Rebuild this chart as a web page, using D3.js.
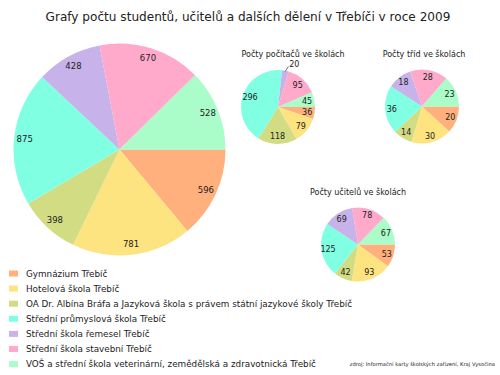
<!DOCTYPE html>
<html>
<head>
<meta charset="utf-8">
<script src="https://cdn.jsdelivr.net/npm/d3@7"></script>
<style>
  body { margin: 0; background: #fff; }
  svg { font-family: "DejaVu Sans", Verdana, sans-serif; }
</style>
</head>
<body>
<div id="chart"></div>
<script>
const width = 500, height = 375;

const schools = [
  "Gymnázium Třebíč",
  "Hotelová škola Třebíč",
  "OA Dr. Albína Bráfa a Jazyková škola s právem státní jazykové školy Třebíč",
  "Střední průmyslová škola Třebíč",
  "Střední škola řemesel Třebíč",
  "Střední škola stavební Třebíč",
  "VOŠ a střední škola veterinární, zemědělská a zdravotnická Třebíč"
];
const colors = ["#ffb07c", "#fde480", "#d2dd83", "#80ffe2", "#c8b2ea", "#ffaaca", "#aafcc8"];

const students  = [596, 781, 398, 875, 428, 670, 528];
const computers = [36, 79, 118, 296, 20, 95, 45];
const classes   = [20, 30, 14, 36, 18, 28, 23];
const teachers  = [53, 93, 42, 125, 69, 78, 67];

const svg = d3.select("#chart").append("svg")
  .attr("width", width)
  .attr("height", height);

svg.append("text")
  .attr("x", 248).attr("y", 21)
  .attr("text-anchor", "middle")
  .attr("font-size", 12.1)
  .attr("fill", "#222")
  .text("Grafy počtu studentů, učitelů a dalších dělení v Třebíči v roce 2009");

// pie starts at 3 o'clock and runs clockwise
const pie = d3.pie().sort(null)
  .startAngle(Math.PI / 2)
  .endAngle(Math.PI / 2 + 2 * Math.PI);

function drawPie(values, cx, cy, r, labelK, fontSize, title, titleX, titleY) {
  const g = svg.append("g").attr("transform", `translate(${cx},${cy})`);
  const arcs = pie(values);
  const total = d3.sum(values);
  const arc = d3.arc().innerRadius(0).outerRadius(r);
  const labelArc = d3.arc().innerRadius(r * labelK).outerRadius(r * labelK);

  g.selectAll("path").data(arcs).join("path")
    .attr("d", arc)
    .attr("fill", (d, i) => colors[i]);

  arcs.forEach(d => {
    const small = d.value / total < 0.04;
    if (small) {
      const a = (d.startAngle + d.endAngle) / 2;
      const p = k => [Math.sin(a) * r * k, -Math.cos(a) * r * k];
      const p1 = p(0.98), p2 = p(1.12);
      g.append("line")
        .attr("x1", p1[0]).attr("y1", p1[1])
        .attr("x2", p2[0] + 2).attr("y2", p2[1])
        .attr("stroke", "#333").attr("stroke-width", 0.7);
      g.append("text")
        .attr("x", p2[0] + 8).attr("y", p2[1] - 2)
        .attr("text-anchor", "middle")
        .attr("dy", "0.35em")
        .attr("font-size", fontSize)
        .attr("fill", "#222")
        .text(d.value);
    } else {
      const [lx, ly] = labelArc.centroid(d);
      g.append("text")
        .attr("x", lx).attr("y", ly)
        .attr("text-anchor", "middle")
        .attr("dy", "0.35em")
        .attr("font-size", fontSize)
        .attr("fill", "#222")
        .text(d.value);
    }
  });

  if (title) {
    svg.append("text")
      .attr("x", titleX).attr("y", titleY)
      .attr("text-anchor", "middle")
      .attr("font-size", 8)
      .attr("fill", "#222")
      .text(title);
  }
}

drawPie(students, 119.5, 149.5, 106, 0.9, 8.5);
drawPie(computers, 278, 107, 37, 0.8, 8, "Počty počítačů ve školách", 293, 57);
drawPie(classes, 422, 106.5, 37, 0.82, 8, "Počty tříd ve školách", 424, 57);
drawPie(teachers, 358, 244.5, 37, 0.82, 8, "Počty učitelů ve školách", 358, 195);

// LEGEND
const legend = svg.append("g");
schools.forEach((s, i) => {
  const y = 273.5 + i * 15.1;
  legend.append("rect")
    .attr("x", 9).attr("y", y - 3)
    .attr("width", 9).attr("height", 6)
    .attr("fill", colors[i]);
  legend.append("text")
    .attr("x", 26).attr("y", y)
    .attr("dy", "0.35em")
    .attr("font-size", 8.8)
    .attr("fill", "#222")
    .text(s);
});

svg.append("text")
  .attr("x", 495).attr("y", 366)
  .attr("text-anchor", "end")
  .attr("font-size", 5.2)
  .attr("fill", "#222")
  .text("zdroj: Informační karty školských zařízení, Kraj Vysočina");
</script>
</body>
</html>
